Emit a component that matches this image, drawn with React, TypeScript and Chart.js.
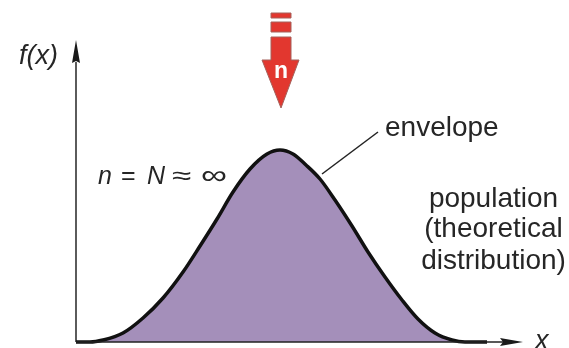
import React, { useEffect, useRef } from "react";
import { Chart, registerables } from "chart.js";

Chart.register(...registerables);

// Envelope curve of the population distribution
const curveX = [76, 90, 103, 123, 143, 163, 183, 200, 217, 233, 250, 267, 280, 293, 306, 320, 335, 352, 368, 385, 402, 418, 435, 452, 465, 487];
const curveY = [0, 0, 2, 9, 24, 44, 70, 96, 123, 150, 173, 188, 192, 188, 177, 163, 142, 116, 90, 65, 42, 23, 9, 2, 0, 0];
const yAxisX = [76, 76];
const yAxisY = [0, 280];
const xAxisX = [76, 505];
const xAxisY = [0, 0];
const leaderX = [322, 378];
const leaderY = [168, 210];

const textFont = '"Liberation Sans", Arial, sans-serif';

const annotations = {
  id: "annotations",
  afterDatasetsDraw(chart: any) {
    const { ctx, scales } = chart;
    const sx = (v: number) => scales.x.getPixelForValue(v);
    const sy = (v: number) => scales.y.getPixelForValue(v);
    const poly = (pts: number[][], fill: string, stroke?: string) => {
      ctx.beginPath();
      pts.forEach(([a, b], i) => (i ? ctx.lineTo(sx(a), sy(b)) : ctx.moveTo(sx(a), sy(b))));
      ctx.closePath();
      ctx.fillStyle = fill;
      ctx.fill();
      if (stroke) {
        ctx.strokeStyle = stroke;
        ctx.lineWidth = 1;
        ctx.stroke();
      }
    };
    ctx.save();
    // axis arrow heads
    poly([[76, 302], [72, 279], [76, 281], [80, 279]], "#1a1a1a");
    poly([[523, 0], [500, 4], [503, 0], [500, -4]], "#1a1a1a");
    // red sample arrow
    const red = "#e2372f";
    const edge = "#a5605a";
    poly([[271, 329], [291, 329], [291, 324], [271, 324]], red, edge);
    poly([[271, 320], [291, 320], [291, 310], [271, 310]], red, edge);
    poly([[271, 305], [291, 305], [291, 282], [299, 282], [281, 234], [262, 282], [271, 282]], red, edge);

    const label = (t: string, x: number, y: number, size: number, opts: any = {}) => {
      ctx.save();
      ctx.font = `${opts.italic ? "italic " : ""}${opts.bold ? "bold " : ""}${size}px ${textFont}`;
      ctx.fillStyle = opts.color || "#262626";
      ctx.textAlign = opts.align || "left";
      ctx.textBaseline = "middle";
      ctx.translate(sx(x), sy(y));
      ctx.scale(opts.stretch || 1, 1);
      ctx.fillText(t, 0, 0);
      ctx.restore();
    };
    label("n", 281, 270, 23, { bold: true, color: "#ffffff", align: "center" });
    label("f(x)", 19, 286, 27, { italic: true });
    label("n", 98, 165, 25, { italic: true });
    label("=", 121, 165, 25);
    label("N", 147, 165, 25, { italic: true });
    label("≈", 172, 165, 25, { stretch: 1.4 });
    label("∞", 201, 165, 27, { stretch: 1.35 });
    label("envelope", 385, 214, 28);
    label("population", 493.5, 143, 28, { align: "center" });
    label("(theoretical", 493.5, 113, 28, { align: "center" });
    label("distribution)", 493.5, 81, 28, { align: "center" });
    label("x", 535, 1, 27, { italic: true });
    ctx.restore();
  },
};

export default function App() {
  const ref = useRef<HTMLCanvasElement>(null);
  useEffect(() => {
    document.body.style.margin = "0";
    document.body.style.background = "#ffffff";
    const line = (xs: number[], ys: number[], width: number, color: string) => ({
      data: xs.map((x, i) => ({ x, y: ys[i] })),
      borderColor: color,
      borderWidth: width,
      pointRadius: 0,
      fill: false,
      tension: 0,
    });
    const chart = new Chart(ref.current!, {
      type: "line",
      data: {
        datasets: [
          {
            data: curveX.map((x, i) => ({ x, y: curveY[i] })),
            borderColor: "#111111",
            borderWidth: 3.5,
            backgroundColor: "#a48fba",
            pointRadius: 0,
            fill: { value: 0 },
            cubicInterpolationMode: "monotone",
            order: 1,
          },
          { ...line(yAxisX, yAxisY, 1.6, "#333333"), order: 2 },
          { ...line(xAxisX, xAxisY, 1.6, "#222222"), order: 0 },
          { ...line(leaderX, leaderY, 1.5, "#222222"), order: 3 },
        ],
      } as any,
      options: {
        animation: false,
        responsive: false,
        parsing: false,
        layout: { padding: 0 },
        plugins: { legend: { display: false }, tooltip: { enabled: false } },
        scales: {
          x: { type: "linear", min: 0, max: 569, display: false },
          y: { type: "linear", min: -6, max: 342, display: false },
        },
      } as any,
      plugins: [annotations],
    });
    return () => chart.destroy();
  }, []);
  return <canvas ref={ref} width={569} height={348} style={{ display: "block" }} />;
}
